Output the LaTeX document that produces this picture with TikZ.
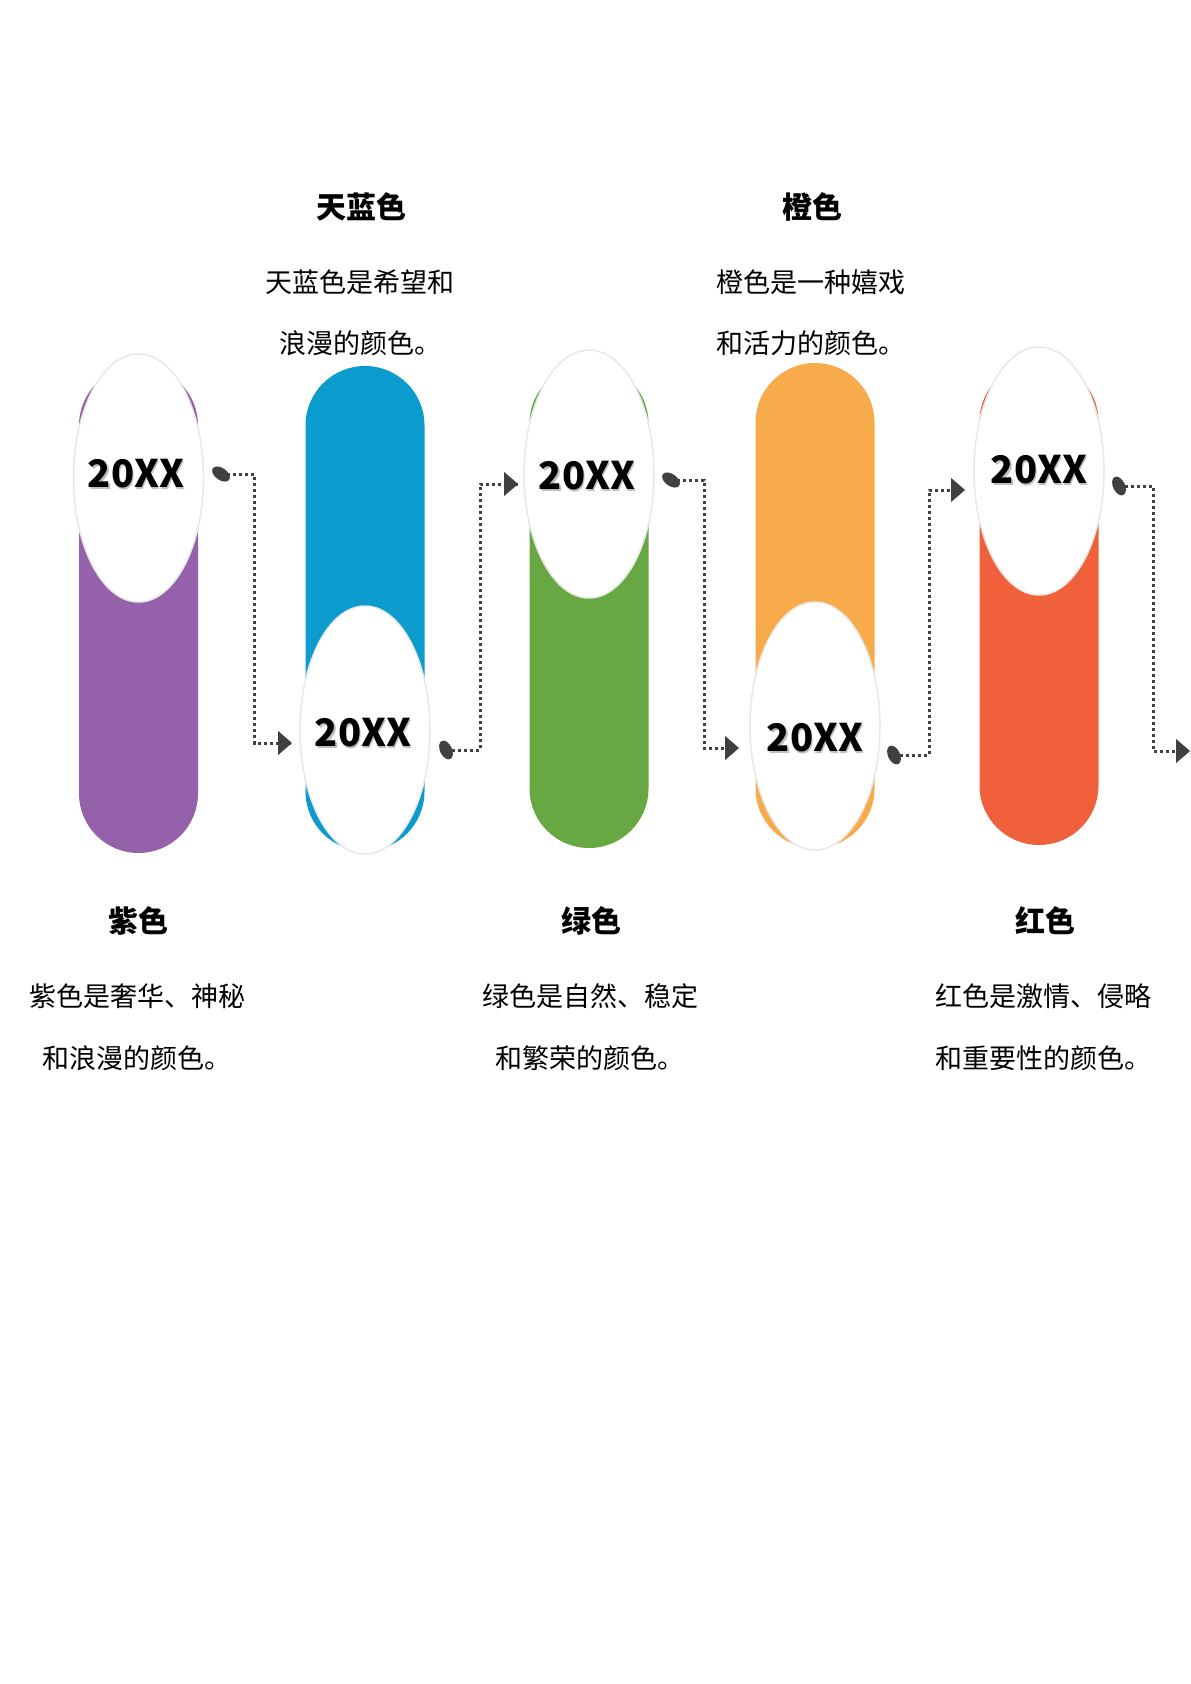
\documentclass[tikz,border=0pt]{standalone}
\usepackage{fontspec}
\setmainfont{Noto Sans CJK SC}
\usetikzlibrary{arrows.meta,shapes.geometric}
\definecolor{cpurple}{HTML}{9461AA}
\definecolor{cblue}{HTML}{0C9BCD}
\definecolor{cgreen}{HTML}{68A842}
\definecolor{corange}{HTML}{F8AB4A}
\definecolor{cred}{HTML}{F0603B}
\definecolor{cdot}{HTML}{404040}
\tikzset{
  oval/.style={fill=white,draw=black!9,line width=1.5pt},
  year/.style={font=\bfseries\fontsize{38}{40}\selectfont},
  ttl/.style={font=\bfseries\fontsize{30}{32}\selectfont},
  desc/.style={font=\fontsize{27}{30}\selectfont,anchor=west},
  conn/.style={draw=cdot,line width=3pt,dash pattern=on 3pt off 3pt},
  tip/.style={-{Triangle[length=14pt,width=24pt]},cdot,line width=1pt},
  dotend/.style={fill=cdot,ellipse,inner sep=0pt,minimum width=20pt,minimum height=12pt}
}
\newcommand{\pillshape}[4]{% x, top, bottom, color
  \fill[#4] (#1-59.5,#2+59.5) arc[start angle=180,end angle=360,radius=59.5] -- (#1+59.5,#3-59.5) arc[start angle=0,end angle=180,radius=59.5] -- cycle;}
\newcommand{\yeartext}[3]{% name, x, y
  \node[year,text=black!25] at (#2+1.5,#3+1.5) {20XX};
  \node[year] (#1) at (#2,#3) {20XX};}
\begin{document}
\begin{tikzpicture}[x=1pt,y=-1pt]
\useasboundingbox (0,0) rectangle (1191,1684);
\fill[white] (0,0) rectangle (1191,1684);
% pills
\pillshape{138.5}{366}{853}{cpurple}
\pillshape{365}{366}{851}{cblue}
\pillshape{589}{364}{848}{cgreen}
\pillshape{815}{363}{848}{corange}
\pillshape{1039}{362}{845}{cred}
% ovals
\filldraw[oval] (138.5,478) ellipse[x radius=65,y radius=124];
\filldraw[oval] (365,730) ellipse[x radius=65,y radius=124];
\filldraw[oval] (589,474) ellipse[x radius=65,y radius=124];
\filldraw[oval] (815,726) ellipse[x radius=65,y radius=124];
\filldraw[oval] (1039,471) ellipse[x radius=65,y radius=124];
\yeartext{y1}{136}{474}
\yeartext{y2}{363}{733}
\yeartext{y3}{587}{476}
\yeartext{y4}{815}{738}
\yeartext{y5}{1039}{470}
% connectors
\node[dotend,rotate=-35] (d1) at (221,474) {};
\node[dotend,rotate=-65] (d2) at (446,750) {};
\node[dotend,rotate=-35] (d3) at (671,480) {};
\node[dotend,rotate=-65] (d4) at (894,755) {};
\node[dotend,rotate=-65] (d5) at (1119,486) {};
\coordinate (t1) at (292,743);
\coordinate (t2) at (518,484);
\coordinate (t3) at (739,748);
\coordinate (t4) at (965,490);
\coordinate (t5) at (1190,751);
\draw[conn] (d1.center) -| (254.5,743) -- (t1);
\draw[conn] (d2.center) -| (480,484) -- (t2);
\draw[conn] (d3.center) -| (704,748) -- (t3);
\draw[conn] (d4.center) -| (929,490) -- (t4);
\draw[conn] (d5.center) -| (1153,751) -- (t5);
\foreach \i in {1,...,5} {\draw[tip] ([xshift=-14pt]t\i) -- (t\i);}
% texts top
\node[ttl] (h2) at (361,207) {天蓝色};
\node[desc] (a2) at (262,282) {天蓝色是希望和};
\node[desc] (b2) at (276,343) {浪漫的颜色。};
\node[ttl] (h4) at (812,207) {橙色};
\node[desc] (a4) at (713,282) {橙色是一种嬉戏};
\node[desc] (b4) at (713,343) {和活力的颜色。};
% texts bottom
\node[ttl] (h1) at (138,921) {紫色};
\node[desc] (a1) at (26,996) {紫色是奢华、神秘};
\node[desc] (b1) at (39,1058) {和浪漫的颜色。};
\node[ttl] (h3) at (591,921) {绿色};
\node[desc] (a3) at (479,996) {绿色是自然、稳定};
\node[desc] (b3) at (492,1058) {和繁荣的颜色。};
\node[ttl] (h5) at (1045,921) {红色};
\node[desc] (a5) at (932,996) {红色是激情、侵略};
\node[desc] (b5) at (932,1058) {和重要性的颜色。};
\end{tikzpicture}
\end{document}
